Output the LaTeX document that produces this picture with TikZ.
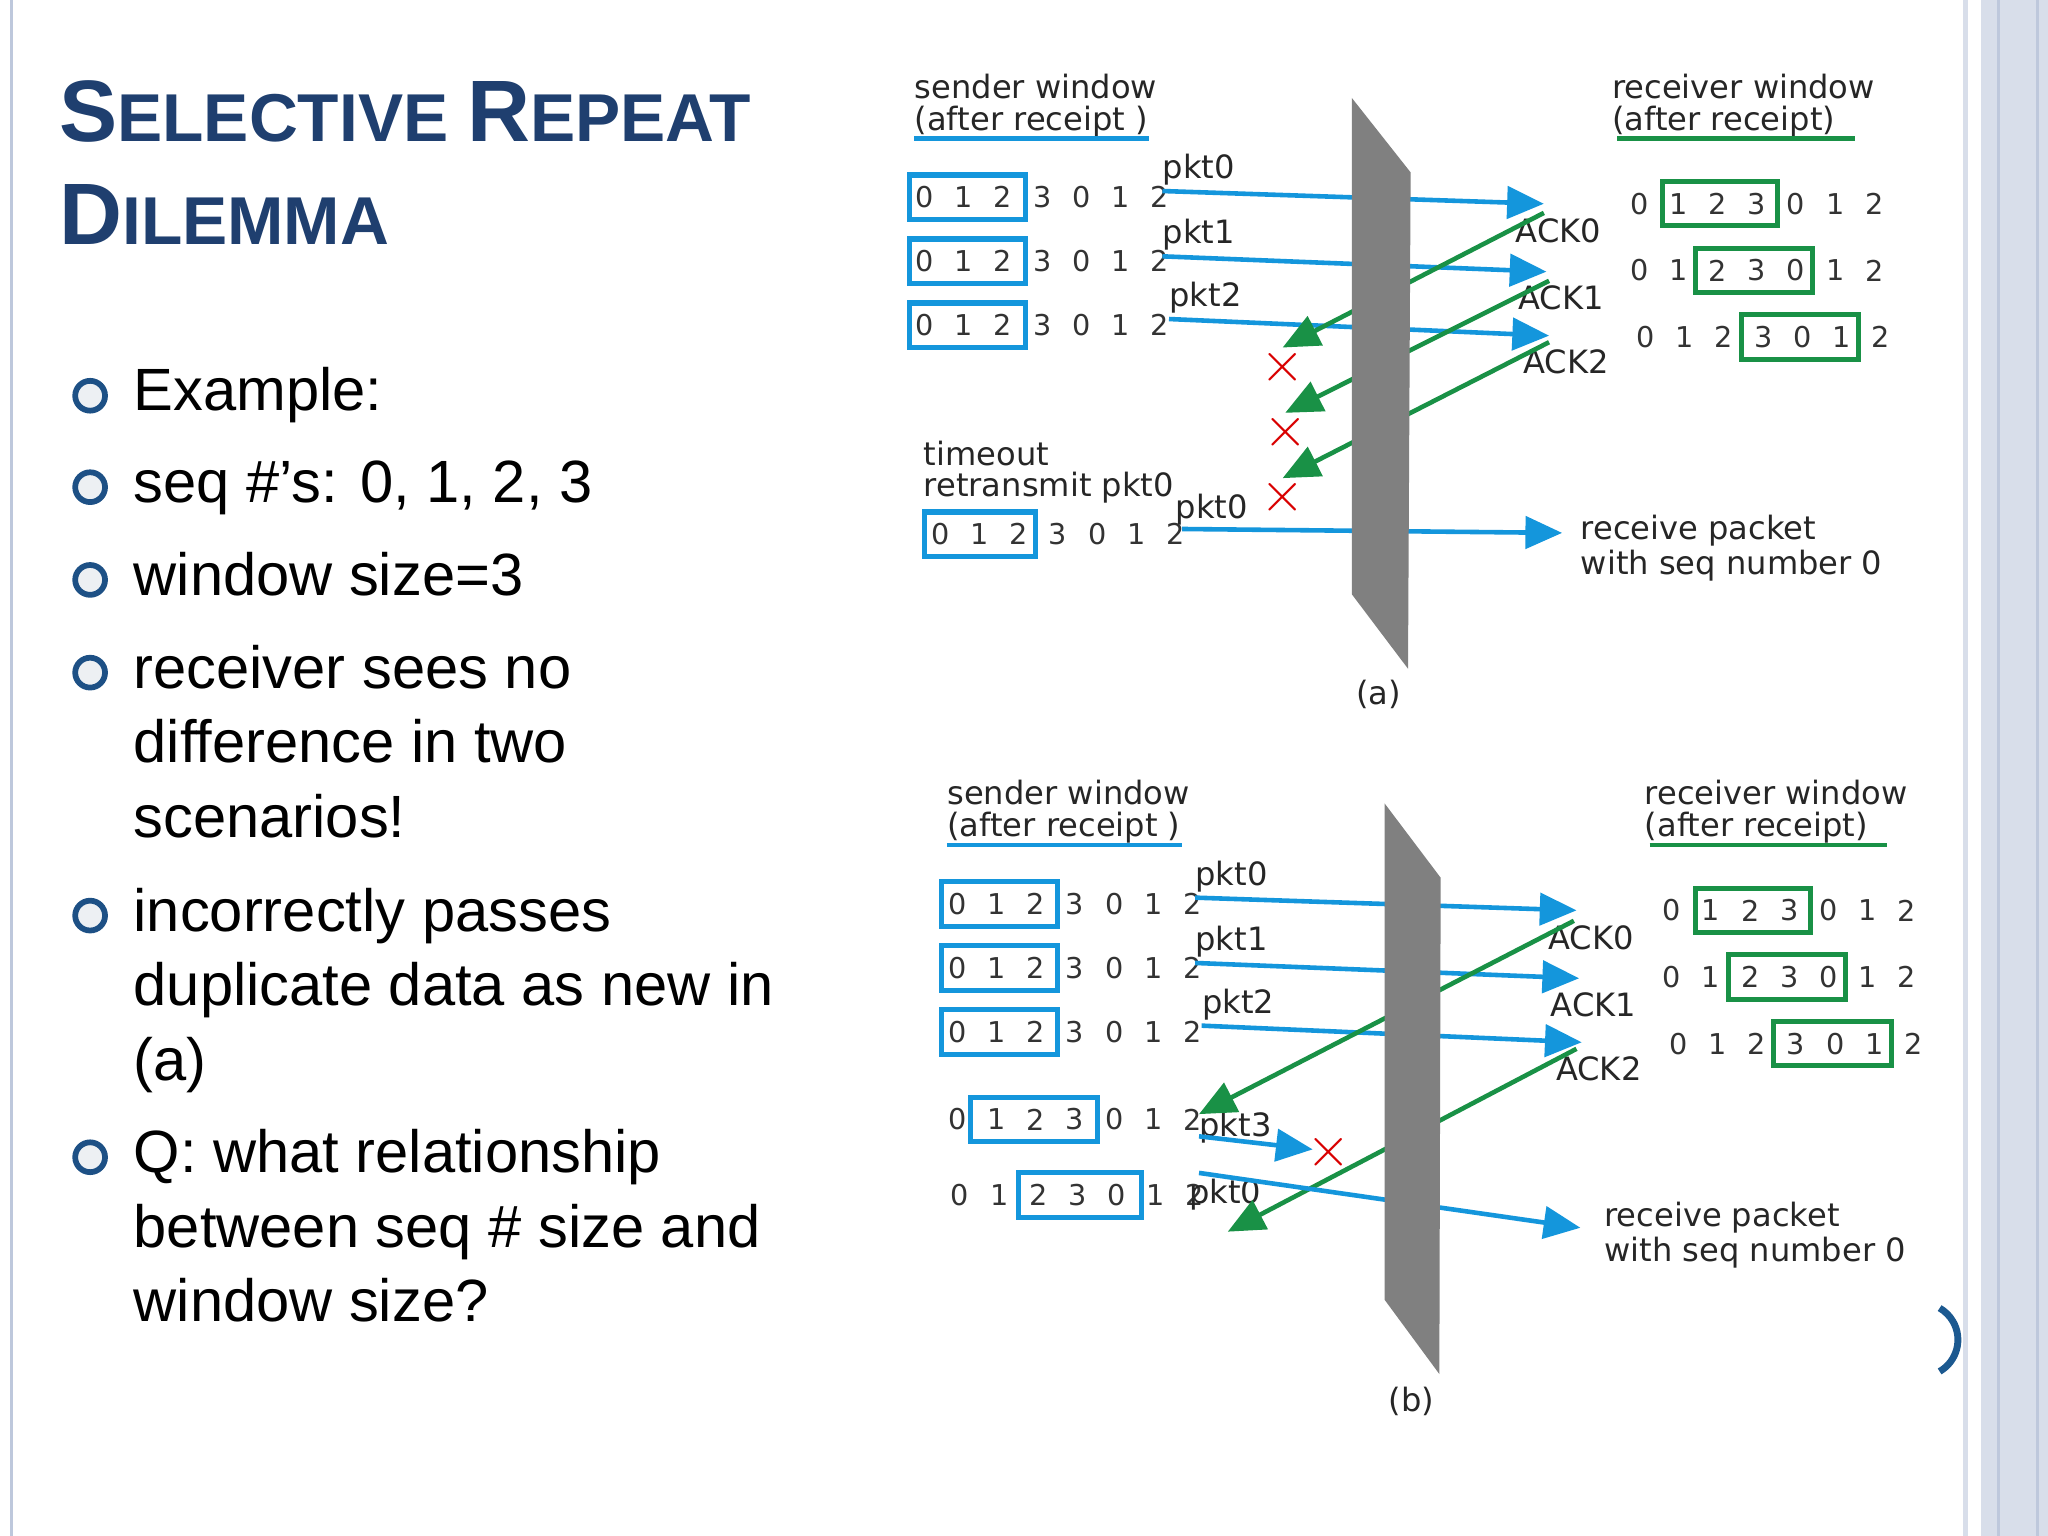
\documentclass[tikz,border=0pt]{standalone}
\usepackage{fontspec}
\setmainfont{Liberation Sans}
\newfontfamily\dvs{DejaVu Sans}
\usetikzlibrary{arrows.meta}
\definecolor{tblue}{RGB}{31,63,111}
\definecolor{ab}{RGB}{20,150,220}
\definecolor{ag}{RGB}{25,145,70}
\definecolor{slab}{RGB}{128,128,128}
\definecolor{edge}{RGB}{190,200,220}
\begin{document}
\begin{tikzpicture}[x=0.02cm,y=-0.02cm,
 dig/.style={font=\dvs\fontsize{12.5}{13}\selectfont,inner sep=0,text=black!80},
 lab/.style={font=\dvs\fontsize{14}{15}\selectfont,inner sep=0,anchor=west,text=black!85},
 bul/.style={font=\fontsize{26}{26}\selectfont,inner sep=0,anchor=base west},
 bb/.style={draw=ab,line width=2.2pt},
 gb/.style={draw=ag,line width=2.2pt},
 ba/.style={draw=ab,line width=2pt,-{Triangle[length=16pt,width=14pt]}},
 ga/.style={draw=ag,line width=2pt,-{Triangle[length=16pt,width=14pt]}},
 xm/.style={font=\fontsize{26}{26}\selectfont\bfseries,text=red!85!black,inner sep=0}]
\useasboundingbox (0,0) rectangle (1568,1176);
\fill[white] (0,0) rectangle (1568,1176);
% edges
\draw[edge,line width=1.5pt] (9,0)--(9,1176);
\fill[edge!60] (1503,0) rectangle (1568,1176);
\fill[white] (1507,0) rectangle (1517,1176);
\draw[edge,line width=1pt] (1530,0)--(1530,1176) (1560,0)--(1560,1176);
% title
\node[anchor=base west,inner sep=0,text=tblue,font=\bfseries] (t1) at (45,108) {\fontsize{38}{38}\selectfont S\fontsize{29.5}{30}\selectfont ELECTIVE \fontsize{38}{38}\selectfont R\fontsize{29.5}{30}\selectfont EPEAT};
\node[anchor=base west,inner sep=0,text=tblue,font=\bfseries] (t2) at (45,187) {\fontsize{38}{38}\selectfont D\fontsize{29.5}{30}\selectfont ILEMMA};
% bullets
\foreach \y/\n in {300/b1,370/b2,441/b3,512/b4,698/b5,883/b6}{
  \node[draw=tblue!80!ab,fill=tblue!8,line width=2.5pt,circle,minimum size=13pt,inner sep=0] (\n) at (69,{\y+3}) {};}
\node[bul] (l1) at (102,314) {Example:};
\node[bul] (l2) at (102,385) {seq \#’s: 0, 1, 2, 3};
\node[bul] (l3) at (102,456) {window size=3};
\node[bul] (l4) at (102,527) {receiver sees no};
\node[bul] (l5) at (102,584) {difference in two};
\node[bul] (l6) at (102,641) {scenarios!};
\node[bul] (l7) at (102,713) {incorrectly passes};
\node[bul] (l8) at (102,770) {duplicate data as new in};
\node[bul] (l9) at (102,827) {(a)};
\node[bul] (l10) at (102,898) {Q: what relationship};
\node[bul] (l11) at (102,955) {between seq \# size and};
\node[bul] (l12) at (102,1012) {window size?};
% row macro
\newcommand\srow[3]{\foreach \d [count=\i from 0] in {0,1,2,3,0,1,2}{\node[dig] (#3\i) at ({#1+\i*30},#2) {\d};}}
%%%%%%%%%%%%%%% (a)
\begin{scope}
\node[lab] (sw) at (700,66) {sender window};
\node[lab] (sw2) at (700,93) {(after receipt )};
\draw[ab,line width=2pt] (700,106)--(880,106);
\node[lab] (rw) at (1234,66) {receiver window};
\node[lab] (rw2) at (1234,93) {(after receipt)};
\draw[ag,line width=2pt] (1238,106)--(1420,106);
\srow{708}{151}{aa}\srow{708}{200}{ab}\srow{708}{249}{ac}
\foreach \y in {151,200,249}{\draw[bb] (696,{\y-17}) rectangle (785,{\y+17});}
\node[lab] (ap0) at (890,130) {pkt0};
\node[lab] (ap1) at (890,180) {pkt1};
\node[lab] (ap2) at (895,228) {pkt2};
\srow{1255}{156}{ra}\srow{1255}{207}{rb}\srow{1260}{258}{rc}
\draw[gb] (1273,139) rectangle (1361,173);
\draw[gb] (1298,190) rectangle (1388,224);
\draw[gb] (1333,241) rectangle (1423,275);
\node[lab] (ack0) at (1160,177) {ACK0};
\node[lab] (ack1) at (1162,228) {ACK1};
\node[lab] (ack2) at (1166,277) {ACK2};
\node[xm] (x1) at (982,281) {$\times$};
\node[xm] (x2) at (984,331) {$\times$};
\node[xm] (x3) at (982,381) {$\times$};
\draw[ba] (ap0.south west) ++(0,4) -- (1182,156);
\draw[ba] (ap1.south west) ++(0,4) -- (1184,208);
\draw[ba] (ap2.south west) ++(0,4) -- (1186,257);
\draw[ga] (1182,163) -- (x1.north);
\draw[ga] (1186,215) -- (x2.north);
\draw[ga] (1186,262) -- (x3.north);
\node[lab] (to1) at (707,347) {timeout};
\node[lab] (to2) at (707,373) {retransmit pkt0};
\node[lab] (ap0b) at (900,390) {pkt0};
\srow{720}{409}{ad}
\draw[bb] (708,392) rectangle (793,426);
\draw[ba] (905,405) -- (1196,408);
\node[lab] (rp1) at (1210,406) {receive packet};
\node[lab] (rp2) at (1210,433) {with seq number 0};
\fill[slab] (1035,75) -- (1080,132) -- (1078,512) -- (1035,455) -- cycle;
\node[lab] (la) at (1038,532) {(a)};
\end{scope}
%%%%%%%%%%%%%%% (b)
\begin{scope}
\node[lab] (swb) at (725,607) {sender window};
\node[lab] (swb2) at (725,634) {(after receipt )};
\draw[ab,line width=2pt] (725,647)--(905,647);
\node[lab] (rwb) at (1259,607) {receiver window};
\node[lab] (rwb2) at (1259,634) {(after receipt)};
\draw[ag,line width=2pt] (1263,647)--(1445,647);
\srow{733}{692}{ba}\srow{733}{741}{bb}\srow{733}{790}{bc}
\foreach \y in {692,741,790}{\draw[bb] (721,{\y-17}) rectangle (810,{\y+17});}
\node[lab] (bp0) at (915,671) {pkt0};
\node[lab] (bp1) at (915,721) {pkt1};
\node[lab] (bp2) at (920,769) {pkt2};
\srow{1280}{697}{sa}\srow{1280}{748}{sb}\srow{1285}{799}{sc}
\draw[gb] (1298,680) rectangle (1386,714);
\draw[gb] (1323,731) rectangle (1413,765);
\draw[gb] (1358,782) rectangle (1448,816);
\node[lab] (back0) at (1185,718) {ACK0};
\node[lab] (back1) at (1187,769) {ACK1};
\node[lab] (back2) at (1191,818) {ACK2};
\draw[ba] (bp0.south west) ++(0,4) -- (1207,697);
\draw[ba] (bp1.south west) ++(0,4) -- (1209,749);
\draw[ba] (bp2.south west) ++(0,4) -- (1211,798);
\srow{733}{857}{bd}
\draw[bb] (743,840) rectangle (840,874);
\node[lab] (bp3) at (918,863) {pkt3};
\srow{735}{915}{be}
\draw[bb] (780,898) rectangle (874,932);
\node[lab] (bp0b) at (910,915) {pkt0};
\node[xm] (xb) at (1017,882) {$\times$};
\draw[ga] (1205,705) -- (918,853);
\draw[ga] (1207,803) -- (940,943);
\draw[ba] (918,870) -- (1005,880);
\draw[ba] (918,898) -- (1210,940);
\node[lab] (rpb1) at (1228,932) {receive packet};
\node[lab] (rpb2) at (1228,959) {with seq number 0};
\fill[slab] (1060,615) -- (1103,672) -- (1102,1052) -- (1060,995) -- cycle;
\node[lab] (lb) at (1063,1073) {(b)};
\end{scope}
\draw[tblue!70!ab,line width=3pt] (1485,1050) arc (60:-60:28);
\end{tikzpicture}
\end{document}
